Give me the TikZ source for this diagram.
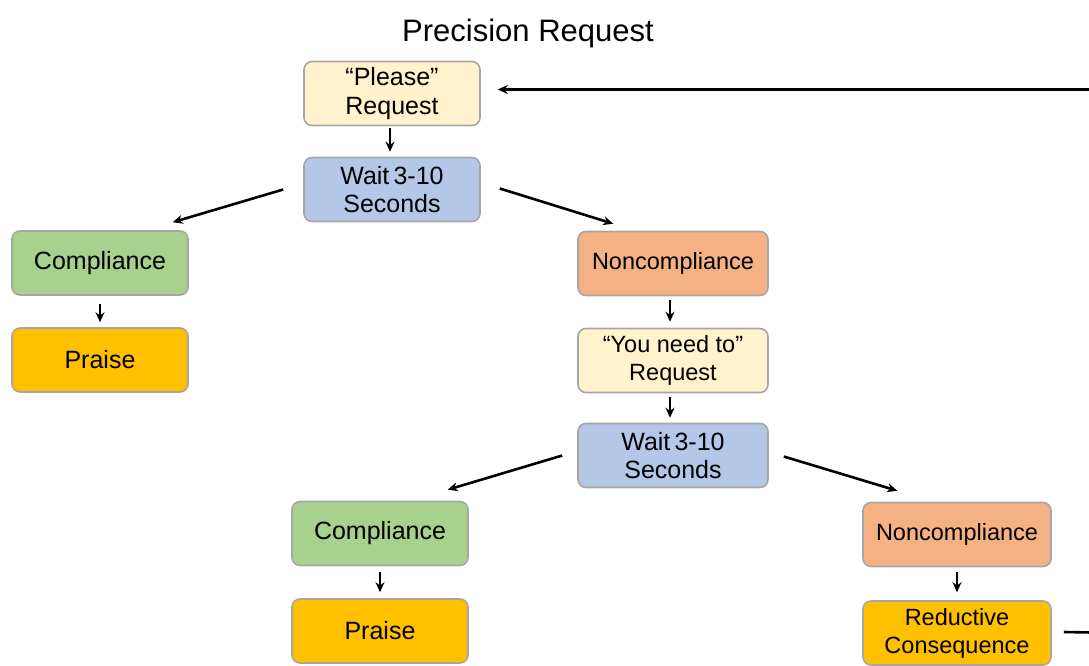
\documentclass[tikz,border=0pt]{standalone}
\usepackage{fontspec}
\setmainfont{Liberation Sans}
\usetikzlibrary{arrows.meta,calc}
\definecolor{cream}{HTML}{FFF2CC}
\definecolor{bluebox}{HTML}{B4C7E7}
\definecolor{greenbox}{HTML}{A9D18E}
\definecolor{goldbox}{HTML}{FFC000}
\definecolor{salmon}{HTML}{F4B183}
\definecolor{edgegray}{HTML}{A6A6A6}
\begin{document}
\begin{tikzpicture}[x=1pt,y=-1pt,
  box/.style={draw=edgegray,line width=1.6pt,rounded corners=8pt,minimum width=176pt,minimum height=64pt,align=center,inner sep=2pt,font=\fontsize{25}{28.5}\selectfont},
  widebox/.style={box,minimum width=190pt},
  arr/.style={-{Stealth[length=10pt,width=9pt]},line width=2.6pt}
]
\useasboundingbox (0,0) rectangle (1089,665);
\clip (0,0) rectangle (1089,665);
\node[font=\fontsize{31}{34}\selectfont] (title) at (528,33) {Precision Request};
\node[box,fill=cream] (pr) at (392,93.5) {“Please”\\Request};
\node[box,fill=bluebox] (w1) at (392,189.5) {Wait\,3-10\\Seconds};
\node[box,fill=greenbox] (c1) at (100,263) {Compliance};
\node[box,fill=goldbox] (p1) at (100,360) {Praise};
\node[widebox,fill=salmon,font=\fontsize{23.5}{28}\selectfont] (n1) at (673,263.5) {Noncompliance};
\node[widebox,fill=cream,font=\fontsize{23.5}{27.5}\selectfont] (y1) at (673,360.5) {“You need to”\\Request};
\node[widebox,fill=bluebox] (w2) at (673,455.5) {Wait\,3-10\\Seconds};
\node[box,fill=greenbox] (c2) at (380,533.5) {Compliance};
\node[box,fill=goldbox] (p2) at (380,631) {Praise};
\node[widebox,minimum width=188pt,fill=salmon,font=\fontsize{23.5}{28}\selectfont] (n2) at (957,534.5) {Noncompliance};
\node[widebox,minimum width=188pt,fill=goldbox,font=\fontsize{23.5}{28}\selectfont] (rc) at (957,633) {Reductive\\Consequence};
% vertical arrows
\draw[arr] ([xshift=-2pt,yshift=-2pt]pr.south) -- ([xshift=-2pt,yshift=5pt]w1.north);
\draw[arr] ([yshift=-8pt]c1.south) -- ([yshift=5pt]p1.north);
\draw[arr] ([xshift=-3pt,yshift=-4pt]n1.south) -- ([xshift=-3pt,yshift=6pt]y1.north);
\draw[arr] ([xshift=-3pt,yshift=-4pt]y1.south) -- ([xshift=-3pt,yshift=5pt]w2.north);
\draw[arr] ([yshift=-6pt]c2.south) -- ([yshift=6pt]p2.north);
\draw[arr] ([yshift=-5pt]n2.south) -- ([yshift=8pt]rc.north);
% diagonal arrows
\draw[arr] ([xshift=-20pt,yshift=0pt]w1.west) -- ([xshift=-16pt,yshift=8pt]c1.north east);
\draw[arr] ([xshift=19pt,yshift=1pt]w1.east) -- ([xshift=36pt,yshift=7pt]n1.north west);
\draw[arr] ([xshift=-15pt,yshift=0pt]w2.west) -- ([xshift=-21pt,yshift=11pt]c2.north east);
\draw[arr] ([xshift=15pt,yshift=-1pt]w2.east) -- ([xshift=35pt,yshift=11pt]n2.north west);
% feedback loop
\coordinate (loopR) at (1120,0);
\draw[arr] ([xshift=12pt,yshift=1pt]rc.east) -- (rc.east -| loopR) -- ([yshift=4pt]pr.east -| loopR) -- ([xshift=17pt,yshift=4pt]pr.east);
\end{tikzpicture}
\end{document}
